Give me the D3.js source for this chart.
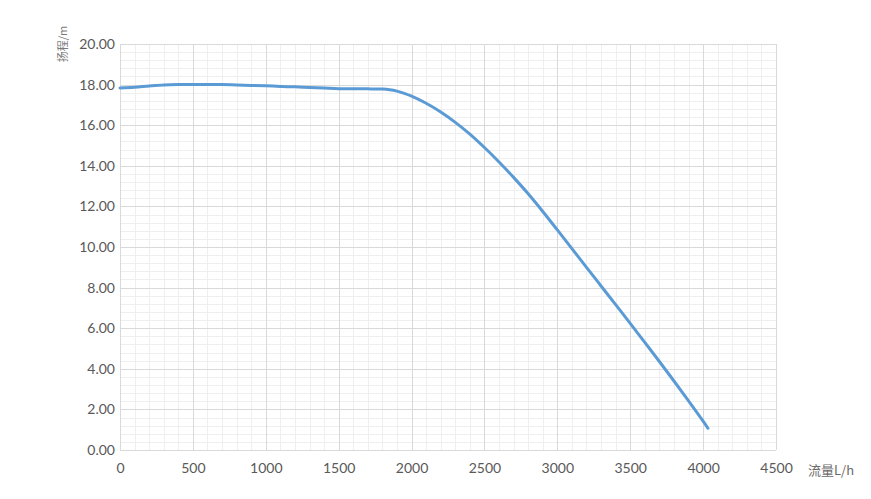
<!DOCTYPE html>
<html><head><meta charset="utf-8">
<script src="https://cdn.jsdelivr.net/npm/d3@7"></script>
<style>body{margin:0;background:#fff;} svg{display:block;}</style>
</head><body>
<svg id="c" width="871" height="499"></svg>
<script>
const flow = [0,100,200,300,400,500,600,700,800,900,1000,1100,1200,1300,1400,1500,1600,1700,1800,1850,1900,1950,2000,2100,2200,2300,2400,2500,2600,2700,2800,2900,3000,3100,3200,3300,3400,3500,3600,3700,3800,3900,4000,4033];
const head = [17.83,17.87,17.93,17.98,18.00,18.00,18.00,18.00,17.98,17.96,17.94,17.91,17.89,17.86,17.83,17.80,17.79,17.79,17.78,17.75,17.68,17.57,17.43,17.08,16.65,16.14,15.56,14.90,14.19,13.43,12.62,11.75,10.84,9.92,9.00,8.08,7.16,6.24,5.30,4.36,3.40,2.42,1.42,1.07];
const xTicks = [0,500,1000,1500,2000,2500,3000,3500,4000,4500];
const yTicks = [0,2,4,6,8,10,12,14,16,18,20];
const xLabel = "流量L/h";
const yLabel = "扬程/m";

const svg = d3.select("#c");
const L = 120, R = 776, T = 44, B = 450;
const x = d3.scaleLinear().domain([0,4500]).range([L,R]);
const y = d3.scaleLinear().domain([0,20]).range([B,T]);

// minor grid
const xMinor = d3.range(0,4501,100), yMinor = d3.range(0,20.01,0.4);
svg.append("g").selectAll("line").data(xMinor).join("line")
  .attr("x1",d=>Math.round(x(d))+0.5).attr("x2",d=>Math.round(x(d))+0.5).attr("y1",T).attr("y2",B)
  .attr("stroke","#efefef").attr("stroke-width",1);
svg.append("g").selectAll("line").data(yMinor).join("line")
  .attr("y1",d=>Math.round(y(d))+0.5).attr("y2",d=>Math.round(y(d))+0.5).attr("x1",L).attr("x2",R)
  .attr("stroke","#efefef").attr("stroke-width",1);
// major grid
svg.append("g").selectAll("line").data(xTicks).join("line")
  .attr("x1",d=>Math.round(x(d))+0.5).attr("x2",d=>Math.round(x(d))+0.5).attr("y1",T).attr("y2",B)
  .attr("stroke","#d9d9d9").attr("stroke-width",1);
svg.append("g").selectAll("line").data(yTicks).join("line")
  .attr("y1",d=>Math.round(y(d))+0.5).attr("y2",d=>Math.round(y(d))+0.5).attr("x1",L).attr("x2",R)
  .attr("stroke","#d9d9d9").attr("stroke-width",1);

const font = "Lato, 'Open Sans', sans-serif";
const xa = svg.append("g").attr("transform",`translate(0,${B})`)
  .call(d3.axisBottom(x).tickValues(xTicks).tickSize(0).tickPadding(13).tickFormat(d3.format("d")));
xa.select(".domain").remove();
xa.selectAll("text").attr("fill","#595959").style("font-family",font).style("font-size","14px");
const ya = svg.append("g").attr("transform",`translate(${L},0)`)
  .call(d3.axisLeft(y).tickValues(yTicks).tickSize(0).tickPadding(5).tickFormat(d3.format(".2f")));
ya.select(".domain").remove();
ya.selectAll("text").attr("fill","#595959").style("font-family",font).style("font-size","14px");

svg.append("text").attr("x",808).attr("y",475).text(xLabel)
  .attr("fill","#6a6a6a").style("font-family","'Noto Sans CJK SC', sans-serif").style("font-size","13px");
svg.append("text").attr("transform","translate(67,44) rotate(-90)").attr("text-anchor","middle").text(yLabel)
  .attr("fill","#7a7a7a").style("font-family","'Noto Sans CJK SC', sans-serif").style("font-size","11px");

svg.append("path").datum(flow.map((f,i)=>[f,head[i]]))
  .attr("fill","none").attr("stroke","#5B9BD5").attr("stroke-width",3).attr("stroke-linecap","round")
  .attr("d", d3.line().x(d=>x(d[0])).y(d=>y(d[1])).curve(d3.curveCatmullRom.alpha(0.5)));
</script>
</body></html>
